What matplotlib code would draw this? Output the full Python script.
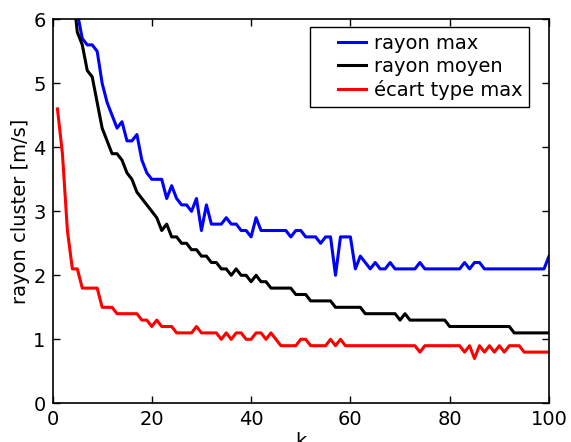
import numpy as np
import matplotlib
matplotlib.use("Agg")
import matplotlib.pyplot as plt
from matplotlib.legend_handler import HandlerLine2D
from matplotlib.lines import Line2D

# nombre de clusters k = 1..100
k = np.arange(1, 101)

rayon_max = [11.0, 9.0, 7.8, 6.9, 6.1, 5.7, 5.6, 5.6, 5.5, 5.0,
             4.7, 4.5, 4.3, 4.4, 4.1, 4.1, 4.2, 3.8, 3.6, 3.5,
             3.5, 3.5, 3.2, 3.4, 3.2, 3.1, 3.1, 3.0, 3.2, 2.7,
             3.1, 2.8, 2.8, 2.8, 2.9, 2.8, 2.8, 2.7, 2.7, 2.6,
             2.9, 2.7, 2.7, 2.7, 2.7, 2.7, 2.7, 2.6, 2.7, 2.7,
             2.6, 2.6, 2.6, 2.5, 2.6, 2.6, 2.0, 2.6, 2.6, 2.6,
             2.1, 2.3, 2.2, 2.1, 2.2, 2.1, 2.1, 2.2, 2.1, 2.1,
             2.1, 2.1, 2.1, 2.2, 2.1, 2.1, 2.1, 2.1, 2.1, 2.1,
             2.1, 2.1, 2.2, 2.1, 2.2, 2.2, 2.1, 2.1, 2.1, 2.1,
             2.1, 2.1, 2.1, 2.1, 2.1, 2.1, 2.1, 2.1, 2.1, 2.3]

rayon_moyen = [9.5, 8.0, 7.2, 6.5, 5.8, 5.6, 5.2, 5.1, 4.7, 4.3,
               4.1, 3.9, 3.9, 3.8, 3.6, 3.5, 3.3, 3.2, 3.1, 3.0,
               2.9, 2.7, 2.8, 2.6, 2.6, 2.5, 2.5, 2.4, 2.4, 2.3,
               2.3, 2.2, 2.2, 2.1, 2.1, 2.0, 2.1, 2.0, 2.0, 1.9,
               2.0, 1.9, 1.9, 1.8, 1.8, 1.8, 1.8, 1.8, 1.7, 1.7,
               1.7, 1.6, 1.6, 1.6, 1.6, 1.6, 1.5, 1.5, 1.5, 1.5,
               1.5, 1.5, 1.4, 1.4, 1.4, 1.4, 1.4, 1.4, 1.4, 1.3,
               1.4, 1.3, 1.3, 1.3, 1.3, 1.3, 1.3, 1.3, 1.3, 1.2,
               1.2, 1.2, 1.2, 1.2, 1.2, 1.2, 1.2, 1.2, 1.2, 1.2,
               1.2, 1.2, 1.1, 1.1, 1.1, 1.1, 1.1, 1.1, 1.1, 1.1]

ecart_type_max = [4.6, 3.9, 2.7, 2.1, 2.1, 1.8, 1.8, 1.8, 1.8, 1.5,
                  1.5, 1.5, 1.4, 1.4, 1.4, 1.4, 1.4, 1.3, 1.3, 1.2,
                  1.3, 1.2, 1.2, 1.2, 1.1, 1.1, 1.1, 1.1, 1.2, 1.1,
                  1.1, 1.1, 1.1, 1.0, 1.1, 1.0, 1.1, 1.1, 1.0, 1.0,
                  1.1, 1.1, 1.0, 1.1, 1.0, 0.9, 0.9, 0.9, 0.9, 1.0,
                  1.0, 0.9, 0.9, 0.9, 0.9, 1.0, 0.9, 1.0, 0.9, 0.9,
                  0.9, 0.9, 0.9, 0.9, 0.9, 0.9, 0.9, 0.9, 0.9, 0.9,
                  0.9, 0.9, 0.9, 0.8, 0.9, 0.9, 0.9, 0.9, 0.9, 0.9,
                  0.9, 0.9, 0.8, 0.9, 0.7, 0.9, 0.8, 0.9, 0.8, 0.9,
                  0.8, 0.9, 0.9, 0.9, 0.8, 0.8, 0.8, 0.8, 0.8, 0.8]


class HandlerDecale(HandlerLine2D):
    # trait de légende décalé vers la droite de la boîte
    def get_xdata(self, legend, xdescent, ydescent, width, height, fontsize):
        x = np.array([-xdescent + 0.43 * width, -xdescent + width])
        return x, x


plt.rcParams['font.family'] = 'DejaVu Sans'
plt.rcParams['font.size'] = 14

fig = plt.figure(figsize=(5.71, 4.42), dpi=100)
ax = fig.add_axes([52.5 / 571, 1 - 403.3 / 442, (549 - 52.5) / 571, (403.3 - 19.3) / 442])

ax.plot(k, rayon_max, color='b', linewidth=2.2, label='rayon max')
ax.plot(k, rayon_moyen, color='k', linewidth=2.2, label='rayon moyen')
ax.plot(k, ecart_type_max, color='r', linewidth=2.2, label=u'écart type max')

ax.set_xlim(0, 100)
ax.set_ylim(0, 6)
ax.set_xticks([0, 20, 40, 60, 80, 100])
ax.set_yticks([0, 1, 2, 3, 4, 5, 6])
ax.tick_params(direction='in', top=True, right=True, length=5, width=1, pad=5)
for s in ax.spines.values():
    s.set_linewidth(1.2)

ax.set_xlabel('k', labelpad=2)
ax.set_ylabel('rayon cluster [m/s]', labelpad=2)

leg = ax.legend(loc='upper right', bbox_to_anchor=(529 / 571, 1 - 27.3 / 442),
                bbox_transform=fig.transFigure, borderaxespad=0, fancybox=False,
                framealpha=1, edgecolor='k', handlelength=2.5, handletextpad=0.4,
                borderpad=0.35, labelspacing=0.2, fontsize=14,
                handler_map={Line2D: HandlerDecale()})
leg.get_frame().set_linewidth(1.0)

fig.savefig('out.png', dpi=100)
